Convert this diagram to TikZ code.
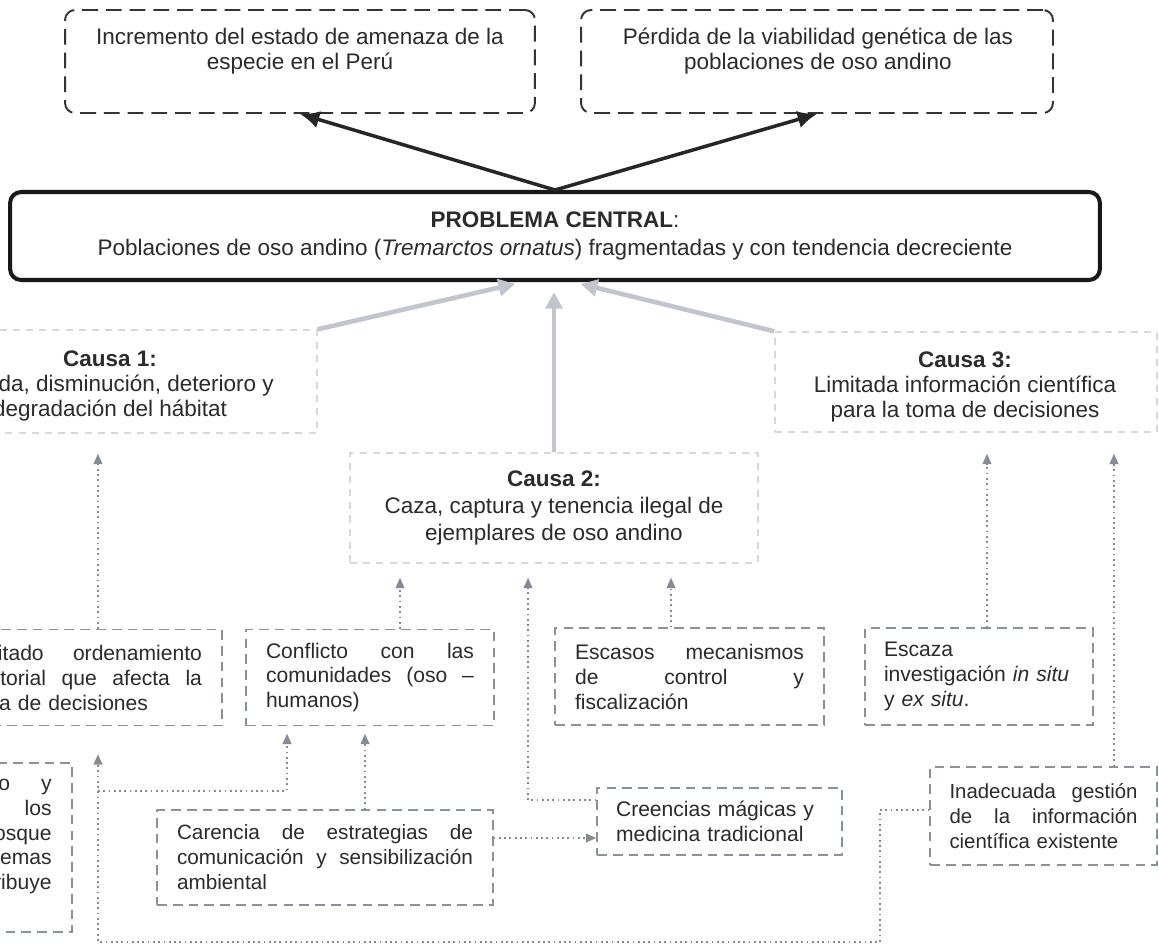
\documentclass[tikz,border=0pt]{standalone}
\usepackage{fontspec}
\setmainfont{Liberation Sans}
\usetikzlibrary{arrows.meta}
\definecolor{txtgray}{HTML}{2B2B2B}
\definecolor{boxgray}{HTML}{8C9099}
\definecolor{lightbox}{HTML}{D6D8DC}
\definecolor{linkgray}{HTML}{868A93}
\definecolor{fatgray}{HTML}{C2C5CD}

\begin{document}
\begin{tikzpicture}[x=0.02cm, y=-0.02cm,
        every node/.style={font=\fontsize{12.8}{14.5}\selectfont, text=txtgray},
        eftext/.style={align=center},
        causetext/.style={align=center, font=\fontsize{12.8}{14}\selectfont},
        efbox/.style={draw=black!80, line width=1.1pt, dash pattern=on 9pt off 4.5pt, rounded corners=0.2cm, minimum width=9.4cm, minimum height=2.06cm},
        central/.style={draw=black!90, line width=2.3pt, rounded corners=0.22cm, minimum width=21.8cm, minimum height=1.76cm, align=center},
        causebox/.style={draw=lightbox, line width=0.8pt, dash pattern=on 4pt off 3.5pt, align=center},
        subbox/.style={draw=boxgray, line width=0.8pt, dash pattern=on 5.5pt off 3.5pt, inner xsep=0.4cm, align=left, font=\fontsize{12}{14.2}\selectfont},
        dotarrow/.style={draw=linkgray, line width=1pt, dotted, -{Triangle[length=6pt, width=5pt]}},
        fatarrow/.style={draw=fatgray, line width=2.6pt, -{Triangle[length=9.5pt, width=9.5pt]}},
        blackarrow/.style={draw=black!85, line width=2pt, -{Latex[length=11pt, width=10pt]}}]

        \fill[white] (0,0) rectangle (1159,944);
        \useasboundingbox (0,0) rectangle (1159,944);
        \clip (0,0) rectangle (1159,944);

        % Efectos
        \node[efbox] (ef1) at (300,61.5) {};
        \node[eftext] (ef1t) at (300,51) {Incremento del estado de amenaza de la\\especie en el Perú};
        \node[efbox, minimum width=9.44cm] (ef2) at (817,61.5) {};
        \node[eftext] (ef2t) at (818,51) {Pérdida de la viabilidad genética de las\\poblaciones de oso andino};

        % Problema central
        \node[central, font=\fontsize{12.8}{16}\selectfont] (cp) at (555,236) {\textbf{PROBLEMA CENTRAL}:\\Poblaciones de oso andino (\textit{Tremarctos ornatus}) fragmentadas y con tendencia decreciente};

        % Causas
        \node[causebox, minimum width=8.34cm, minimum height=2.06cm] (c1) at (108.5,381.5) {};
        \node[causetext] (c1t) at (110,386) {\textbf{Causa 1:}\\Pérdida, disminución, deterioro y\\degradación del hábitat};
        \node[causebox, minimum width=8.16cm, minimum height=2.2cm, font=\fontsize{12.8}{15.5}\selectfont] (c2) at (554,508) {\textbf{Causa 2:}\\Caza, captura y tenencia ilegal de\\ejemplares de oso andino};
        \node[causebox, minimum width=7.64cm, minimum height=2cm] (c3) at (966,382) {};
        \node[causetext] (c3t) at (965,387) {\textbf{Causa 3:}\\Limitada información científica\\para la toma de decisiones};

        % Sub-causas
        \node[subbox, text width=4.76cm, minimum height=1.92cm] (lim) at (83,677.5) {Limitado \hfill ordenamiento\\territorial \hfill que \hfill afecta \hfill la\\toma de decisiones};
        \node[subbox, text width=4.16cm, minimum height=1.92cm] (conf) at (370,677.5) {Conflicto \hfill con \hfill las\\comunidades \hfill (oso \hfill --\\humanos)};
        \node[subbox, text width=4.58cm, minimum height=1.94cm] (esc) at (689.5,676.5) {Escasos \hfill mecanismos\\de \hfill control \hfill y\\fiscalización};
        \node[subbox, text width=3.8cm, inner xsep=0.38cm, minimum height=1.94cm] (inv) at (979,676.5) {Escaza\\investigación \textit{in situ}\\y \textit{ex situ}.};
        \node[subbox, text width=3.76cm, inner xsep=0.39cm, minimum height=1.96cm, font=\fontsize{11.6}{14.2}\selectfont] (inad) at (1043.5,816) {Inadecuada \hfill gestión\\de \hfill la \hfill información\\científica existente};
        \node[subbox, text width=4.14cm, inner xsep=0.38cm, minimum height=1.34cm] (cre) at (719.5,821.5) {Creencias mágicas y\\medicina tradicional};
        \node[subbox, text width=5.92cm, minimum height=1.9cm, font=\fontsize{11.8}{14.2}\selectfont] (car) at (325,857.5) {Carencia \hfill de \hfill estrategias \hfill de\\comunicación \hfill y \hfill sensibilización\\ambiental};
        \node[subbox, minimum width=5.44cm, minimum height=3.38cm] (otra) at (-64,847.5) {};
        \node[align=right, anchor=east, inner xsep=0pt, font=\fontsize{12}{14}\selectfont] (otrat) at (52,836.5) {o\hspace{0.62cm}y\\los\\osque\\emas\\ribuye};

        % Efectos del problema
        \draw[blackarrow] (cp.north) -- (ef1.south);
        \draw[blackarrow] (cp.north) -- (ef2.south);

        % Causas hacia el problema central
        \draw[fatarrow, shorten >=0.16cm] (c1.north east) -- ([xshift=-0.64cm]cp.south);
        \draw[fatarrow, shorten >=0.2cm] (c2.north) -- (c2.north |- cp.south);
        \draw[fatarrow, shorten >=0.16cm] (c3.north west) -- ([xshift=0.36cm]cp.south);

        % Sub-causas hacia las causas
        \draw[dotarrow, shorten >=0.4cm] ([xshift=0.3cm]lim.north) -- ([xshift=0.3cm]lim.north |- c1.south);
        \draw[dotarrow, shorten >=0.28cm] ([xshift=0.6cm]conf.north) -- ([xshift=0.6cm]conf.north |- c2.south);
        \draw[dotarrow, shorten >=0.28cm] ([xshift=-0.37cm]esc.north) -- ([xshift=-0.37cm]esc.north |- c2.south);
        \draw[dotarrow, shorten >=0.28cm] ([yshift=0.43cm]cre.west) -| ([xshift=-0.52cm]c2.south);
        \draw[dotarrow, shorten >=0.42cm] ([xshift=0.16cm]inv.north) -- ([xshift=0.16cm]inv.north |- c3.south);
        \draw[dotarrow, shorten >=0.42cm] ([xshift=1.41cm]inad.north) -- ([xshift=1.41cm]inad.north |- c3.south);

        % Entre sub-causas
        \draw[dotarrow, shorten >=0.15cm] ([xshift=0.8cm]car.north) -- ([xshift=0.8cm]car.north |- conf.south);
        \draw[dotarrow] ([yshift=0.39cm]car.east) -- ([yshift=0.39cm]car.east -| cre.west);
        \coordinate (bajo) at (880,942);
        \coordinate (rama) at (98,791);
        \draw[dotarrow, shorten >=0.56cm] ([yshift=0.12cm]inad.west) -| (bajo) -| ([xshift=0.3cm]lim.south);
        \draw[dotarrow, shorten >=0.15cm] (rama) -| ([xshift=-1.66cm]conf.south);
\end{tikzpicture}
\end{document}
